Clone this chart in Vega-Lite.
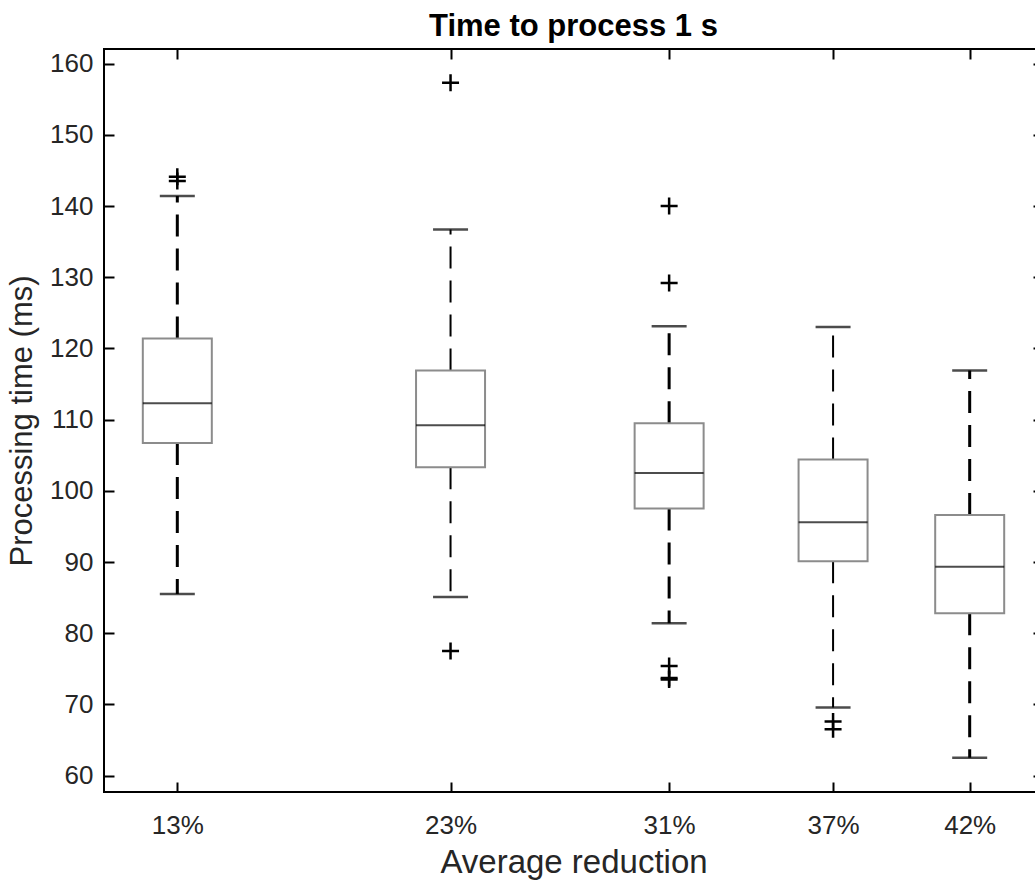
{
  "$schema": "https://vega.github.io/schema/vega-lite/v6.json",
  "width": 939,
  "height": 743,
  "autosize": "none",
  "padding": {"left": 104, "top": 49, "right": 0, "bottom": 99},
  "background": "white",
  "config": {"font": "Liberation Sans", "view": {"stroke": "black", "strokeWidth": 2}},
  "title": {"text": "Time to process 1 s", "fontSize": 31, "fontWeight": "bold", "font": "Liberation Sans", "color": "black", "anchor": "middle", "frame": "group", "offset": 5},
  "datasets": {
    "boxes": [
      {"reduction": 13, "lower": 85.5, "q1": 106.7, "median": 112.3, "q3": 121.4, "upper": 141.4},
      {"reduction": 23, "lower": 85.1, "q1": 103.3, "median": 109.2, "q3": 116.9, "upper": 136.7},
      {"reduction": 31, "lower": 81.4, "q1": 97.5, "median": 102.5, "q3": 109.5, "upper": 123.1},
      {"reduction": 37, "lower": 69.55, "q1": 90.1, "median": 95.6, "q3": 104.4, "upper": 123.0},
      {"reduction": 42, "lower": 62.5, "q1": 82.8, "median": 89.35, "q3": 96.6, "upper": 116.9}
    ],
    "outliers": [
      {"reduction": 13, "value": 144.1},
      {"reduction": 13, "value": 143.5},
      {"reduction": 23, "value": 157.3},
      {"reduction": 23, "value": 77.5},
      {"reduction": 31, "value": 140.0},
      {"reduction": 31, "value": 129.2},
      {"reduction": 31, "value": 75.4},
      {"reduction": 31, "value": 73.7},
      {"reduction": 31, "value": 73.5},
      {"reduction": 37, "value": 67.6},
      {"reduction": 37, "value": 66.5}
    ]
  },
  "resolve": {"axis": {"x": "independent", "y": "independent"}},
  "layer": [
    {
      "data": {"name": "boxes"},
      "mark": {"type": "rule", "strokeDash": [22, 12], "color": "black"},
      "encoding": {
        "x": {"field": "reduction", "type": "quantitative", "scale": {"domain": [10.5, 44.5], "nice": false, "zero": false},
          "axis": {"orient": "bottom", "values": [13, 23, 31, 37, 42], "labelExpr": "datum.value + '%'", "ticks": false, "domain": false, "grid": false, "labelFontSize": 26, "labelColor": "#262626", "labelPadding": 20, "title": "Average reduction", "titleFontSize": 33, "titleFontWeight": "normal", "titleColor": "#262626", "titlePadding": 8}},
        "y": {"field": "q3", "type": "quantitative", "scale": {"domain": [57.7, 162.05], "nice": false, "zero": false},
          "axis": {"orient": "left", "values": [60, 70, 80, 90, 100, 110, 120, 130, 140, 150, 160], "ticks": false, "domain": false, "grid": false, "labelFontSize": 26, "labelColor": "#262626", "labelPadding": 11, "title": "Processing time (ms)", "titleFontSize": 31, "titleFontWeight": "normal", "titleColor": "#262626", "titlePadding": 11}},
        "y2": {"field": "upper"},
        "strokeWidth": {"condition": {"test": "datum.reduction == 23 || datum.reduction == 37", "value": 2}, "value": 3}
      }
    },
    {
      "data": {"name": "boxes"},
      "mark": {"type": "rule", "strokeDash": [22, 12], "color": "black"},
      "encoding": {
        "x": {"field": "reduction", "type": "quantitative",
          "axis": {"orient": "top", "offset": -743, "values": [13, 23, 31, 37, 42], "labels": false, "ticks": true, "tickSize": 10, "tickWidth": 2, "tickColor": "black", "domain": false, "grid": false, "title": null}},
        "y": {"field": "q1", "type": "quantitative",
          "axis": {"orient": "right", "offset": -939, "values": [60, 70, 80, 90, 100, 110, 120, 130, 140, 150, 160], "labels": false, "ticks": true, "tickSize": 10, "tickWidth": 2, "tickColor": "black", "domain": false, "grid": false, "title": null}},
        "y2": {"field": "lower"},
        "strokeWidth": {"condition": {"test": "datum.reduction == 23 || datum.reduction == 37", "value": 2}, "value": 3}
      }
    },
    {
      "data": {"name": "boxes"},
      "mark": {"type": "bar", "fill": "white", "stroke": "#8c8c8c", "strokeWidth": 2, "size": 69},
      "encoding": {
        "x": {"field": "reduction", "type": "quantitative",
          "axis": {"orient": "bottom", "offset": -743, "values": [13, 23, 31, 37, 42], "labels": false, "ticks": true, "tickSize": 10, "tickWidth": 2, "tickColor": "black", "domain": false, "grid": false, "title": null}},
        "y": {"field": "q1", "type": "quantitative",
          "axis": {"orient": "left", "offset": -939, "values": [60, 70, 80, 90, 100, 110, 120, 130, 140, 150, 160], "labels": false, "ticks": true, "tickSize": 10, "tickWidth": 2, "tickColor": "black", "domain": false, "grid": false, "title": null}},
        "y2": {"field": "q3"}
      }
    },
    {
      "data": {"name": "boxes"},
      "mark": {"type": "tick", "orient": "horizontal", "size": 69, "thickness": 2, "color": "black"},
      "encoding": {
        "x": {"field": "reduction", "type": "quantitative", "axis": null},
        "y": {"field": "median", "type": "quantitative", "axis": null}
      }
    },
    {
      "data": {"name": "boxes"},
      "mark": {"type": "tick", "orient": "horizontal", "size": 35, "thickness": 2.5, "color": "black"},
      "encoding": {
        "x": {"field": "reduction", "type": "quantitative", "axis": null},
        "y": {"field": "upper", "type": "quantitative", "axis": null}
      }
    },
    {
      "data": {"name": "boxes"},
      "mark": {"type": "tick", "orient": "horizontal", "size": 35, "thickness": 2.5, "color": "black"},
      "encoding": {
        "x": {"field": "reduction", "type": "quantitative", "axis": null},
        "y": {"field": "lower", "type": "quantitative", "axis": null}
      }
    },
    {
      "data": {"name": "outliers"},
      "mark": {"type": "point", "shape": "M-1,0L1,0M0,-1L0,1", "filled": false, "stroke": "black", "strokeWidth": 2.5, "size": 289, "opacity": 1},
      "encoding": {
        "x": {"field": "reduction", "type": "quantitative", "axis": null},
        "y": {"field": "value", "type": "quantitative", "axis": null}
      }
    }
  ]
}
